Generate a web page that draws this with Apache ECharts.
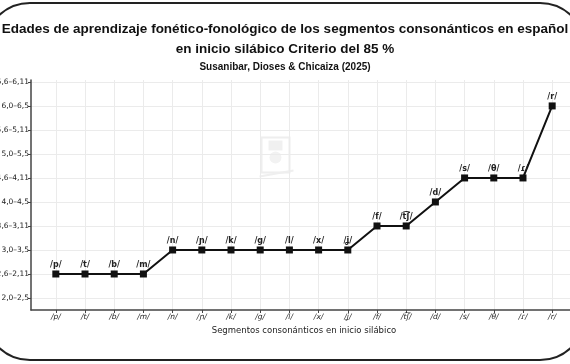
<!DOCTYPE html>
<html><head><meta charset="utf-8">
<script src="https://cdn.jsdelivr.net/npm/echarts@6/dist/echarts.min.js"></script>
<style>html,body{margin:0;padding:0;background:#fff}#c{width:570px;height:364px}</style>
</head><body><div id="c"></div>
<script>
var categories = ['/p/','/t/','/b/','/m/','/n/','/ɲ/','/k/','/g/','/l/','/x/','/ʝ/','/f/','/t͡ʃ/','/d/','/s/','/θ/','/ɾ/','/r/'];
var values = [1,1,1,1,2,2,2,2,2,2,2,3,3,4,5,5,5,8];
var yTickLabels = ['2,0–2,5','2,6–2,11','3,0–3,5','3,6–3,11','4,0–4,5','4,6–4,11','5,0–5,5','5,6–5,11','6,0–6,5','6,6–6,11'];
var titleLines = ['Edades de aprendizaje fonético-fonológico de los segmentos consonánticos en español','en inicio silábico Criterio del 85 %'];
var subtitle = 'Susanibar, Dioses & Chicaiza (2025)';
var xName = 'Segmentos consonánticos en inicio silábico';

var xIdx = categories.map(function(_, i){ return i; });
var yIdx = yTickLabels.map(function(_, i){ return i; });
var seriesData = values.map(function(v, i){ return [i, v]; });

var chart = echarts.init(document.getElementById('c'), null, {renderer:'canvas'});
chart.setOption({
  backgroundColor:'#fff',
  animation:false,
  title:[{
    text: titleLines.join('\n'),
    left:'center', top:14,
    textStyle:{fontFamily:'Liberation Sans', fontWeight:'bold', fontSize:13.5, lineHeight:20, color:'#111'}
  },{
    text: subtitle,
    left:'center', top:57,
    textStyle:{fontFamily:'Liberation Sans', fontWeight:'bold', fontSize:10, color:'#111'}
  }],
  grid:{left:31, right:-7, top:80, bottom:54, containLabel:false, outerBoundsMode:'none'},
  xAxis:{
    type:'value', min:-0.85, max:17.85,
    name:xName, nameLocation:'middle', nameGap:15,
    nameTextStyle:{fontFamily:'DejaVu Sans', fontSize:8.5, color:'#222'},
    axisLine:{onZero:false, lineStyle:{color:'#444', width:1.5}},
    axisTick:{show:true, length:3, customValues:xIdx, lineStyle:{color:'#444'}},
    axisLabel:{customValues:xIdx, margin:3, fontFamily:'DejaVu Sans', fontStyle:'italic', fontSize:7.5, color:'#222',
      formatter:function(v){ return categories[Math.round(v)] || ''; }},
    splitLine:{show:true, lineStyle:{color:'#ebebeb', width:1}}
  },
  yAxis:{
    type:'value', min:-0.5, max:9.08,
    axisLine:{show:true, onZero:false, lineStyle:{color:'#444', width:1.5}},
    axisTick:{show:true, length:3, customValues:yIdx, lineStyle:{color:'#444'}},
    axisLabel:{customValues:yIdx, margin:2, fontFamily:'DejaVu Sans', fontSize:7.5, color:'#222',
      formatter:function(v){ return yTickLabels[Math.round(v)] || ''; }},
    splitLine:{show:true, lineStyle:{color:'#ebebeb', width:1}}
  },
  graphic:[
    {type:'rect', silent:true, z:100, shape:{x:-15, y:3, width:600, height:357, r:45},
     style:{fill:null, stroke:'#222', lineWidth:2}},
    {type:'group', left:257, top:135, silent:true, z:1, children:[
      {type:'rect', shape:{x:0, y:0, width:28, height:35}, style:{fill:null, stroke:'#eeeeee', lineWidth:2}},
      {type:'rect', shape:{x:7, y:3, width:14, height:10}, style:{fill:'#f0f0f0'}},
      {type:'circle', shape:{cx:14, cy:20, r:6}, style:{fill:'#f2f2f2'}},
      {type:'line', shape:{x1:-2, y1:39, x2:32, y2:33}, style:{stroke:'#efefef', lineWidth:2}}
    ]}
  ],
  series:[{
    type:'line', data:seriesData,
    symbol:'rect', symbolSize:7,
    lineStyle:{color:'#111', width:2},
    itemStyle:{color:'#111'},
    label:{show:true, position:'top', distance:2, fontFamily:'DejaVu Sans', fontWeight:'bold', fontSize:8, color:'#222',
      formatter:function(p){ return categories[p.data[0]]; }},
    z:5
  }]
});
</script></body></html>
